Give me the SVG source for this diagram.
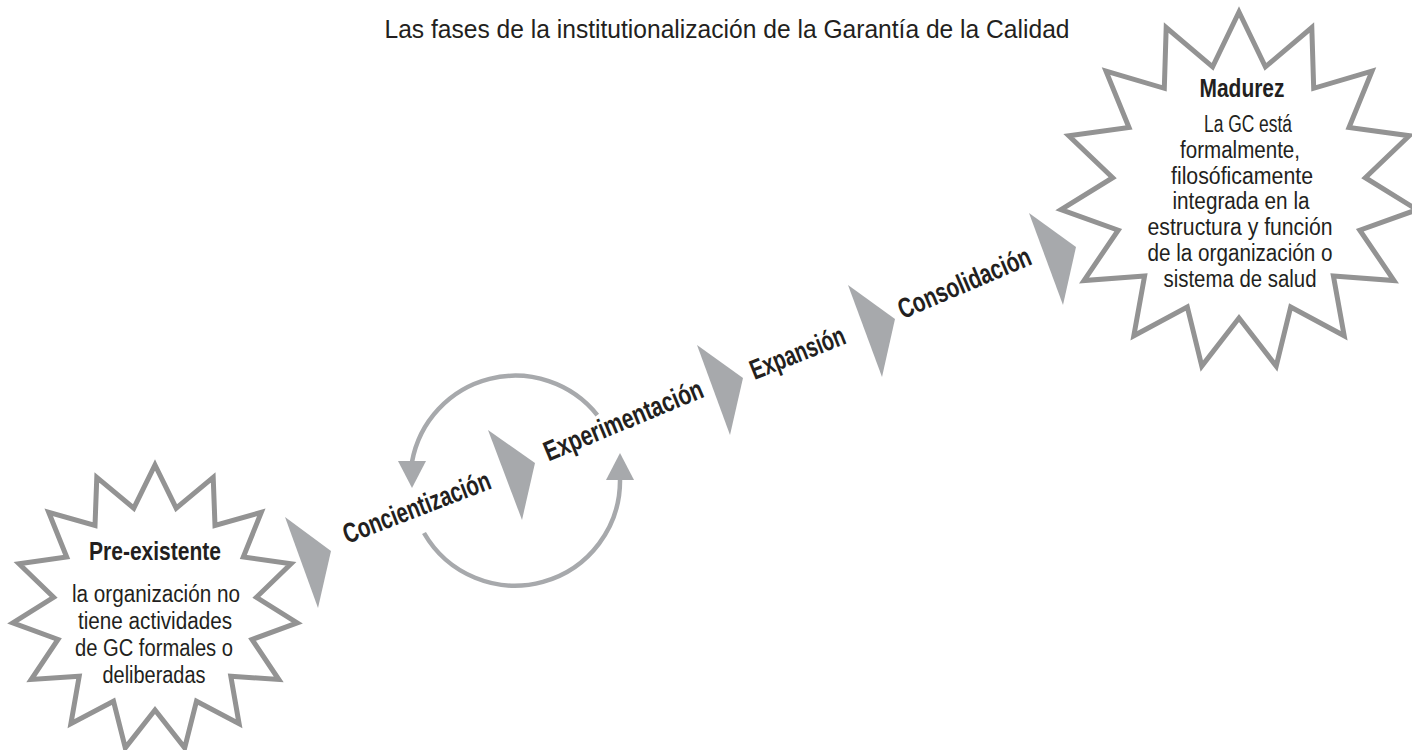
<svg xmlns="http://www.w3.org/2000/svg" width="1412" height="750" viewBox="0 0 1412 750">
  <style>
    .star { fill: #ffffff; stroke: #939393; stroke-width: 5; stroke-linejoin: miter; stroke-miterlimit: 10; }
    .tri { fill: #a7a9ac; stroke: none; }
    .cyc { fill: none; stroke: #a7a9ac; stroke-width: 4.5; }
    .cychead { fill: #a7a9ac; }
    .title { font-family: "Liberation Sans Narrow", "Liberation Sans", Arial, sans-serif; font-size: 25px; fill: #231f20; }
    .head { font-family: "Liberation Sans Narrow", "Liberation Sans", Arial, sans-serif; font-weight: bold; font-size: 25px; fill: #231f20; text-anchor: middle; }
    .body { font-family: "Liberation Sans Narrow", "Liberation Sans", Arial, sans-serif; font-size: 23.5px; fill: #231f20; text-anchor: middle; }
    .phase { font-family: "Liberation Sans Narrow", "Liberation Sans", Arial, sans-serif; font-weight: bold; font-size: 28px; fill: #231f20; text-anchor: middle; }
  </style>

  <text class="title" x="727" y="38" text-anchor="middle" textLength="685" lengthAdjust="spacingAndGlyphs">Las fases de la institutionalización de la Garantía de la Calidad</text>

  <g id="connectors">
    <polygon class="tri" points="285,517 331,551 318,608"/>
    <polygon class="tri" points="488,430 535,463 522,520"/>
    <polygon class="tri" points="697,345 743,378 730,435"/>
    <polygon class="tri" points="848,285 895,319 882,377"/>
    <polygon class="tri" points="1029,213 1076,247 1063,305"/>
    <path class="cyc" d="M597.3,415.1 A105,105 0 0 0 412,462"/>
    <polygon class="cychead" points="398,461 426,461 412,488"/>
    <path class="cyc" d="M424,533 A105,105 0 0 0 620,479"/>
    <polygon class="cychead" points="606,480 634,480 620,453"/>
  </g>

  <g id="node-preexistente">
    <polygon class="star" points="155,465 176.2,508.2 213.2,477.4 215,525.5 261.3,512.3 243.3,557 291,563.8 256.4,597.3 297.2,622.9 252,639.5 278.8,679.5 230.8,676.2 239.1,723.7 196.5,701.2 184.7,747.9 155,710 125.3,747.9 113.5,701.2 70.9,723.7 79.2,676.2 31.2,679.5 58,639.5 12.8,622.9 53.6,597.3 19,563.8 66.7,557 48.7,512.3 95,525.5 96.8,477.4 133.8,508.2"/>
    <text class="head" x="155" y="560" textLength="132" lengthAdjust="spacingAndGlyphs">Pre-existente</text>
    <text class="body" x="156" y="602" textLength="168" lengthAdjust="spacingAndGlyphs">la organización no</text>
    <text class="body" x="155" y="629" textLength="154" lengthAdjust="spacingAndGlyphs">tiene actividades</text>
    <text class="body" x="154" y="656" textLength="158" lengthAdjust="spacingAndGlyphs">de GC formales o</text>
    <text class="body" x="154" y="683" textLength="103" lengthAdjust="spacingAndGlyphs">deliberadas</text>
  </g>

  <g id="node-concientizacion">
    <text class="phase" transform="translate(420,516) rotate(-21)" textLength="156" lengthAdjust="spacingAndGlyphs">Concientización</text>
  </g>
  <g id="node-experimentacion">
    <text class="phase" transform="translate(627,429) rotate(-22.5)" textLength="170" lengthAdjust="spacingAndGlyphs">Experimentación</text>
  </g>
  <g id="node-expansion">
    <text class="phase" transform="translate(801,361.5) rotate(-21.7)" textLength="100" lengthAdjust="spacingAndGlyphs">Expansión</text>
  </g>
  <g id="node-consolidacion">
    <text class="phase" transform="translate(968,291.5) rotate(-23)" textLength="142" lengthAdjust="spacingAndGlyphs">Consolidación</text>
  </g>

  <g id="node-madurez">
    <polygon class="star" points="1239,12 1265.4,66.8 1311.8,27.5 1313.7,88.3 1372,71.2 1349,127.5 1409.2,135.7 1365.3,177.7 1417,209.7 1359.8,230.2 1394,280.5 1333.4,276 1344.2,335.8 1290.7,307 1276.2,366.1 1239,318 1201.8,366.1 1187.3,307 1133.8,335.8 1144.6,276 1084,280.5 1118.2,230.2 1061,209.7 1112.7,177.7 1068.8,135.7 1129,127.5 1106,71.2 1164.3,88.3 1166.2,27.5 1212.6,66.8"/>
    <text class="head" x="1242" y="97" textLength="85" lengthAdjust="spacingAndGlyphs">Madurez</text>
    <text class="body" x="1248" y="132" textLength="88" lengthAdjust="spacingAndGlyphs">La GC está</text>
    <text class="body" x="1240" y="157.8" textLength="120" lengthAdjust="spacingAndGlyphs">formalmente,</text>
    <text class="body" x="1242" y="183.6" textLength="142" lengthAdjust="spacingAndGlyphs">filosóficamente</text>
    <text class="body" x="1241" y="209.4" textLength="137" lengthAdjust="spacingAndGlyphs">integrada en la</text>
    <text class="body" x="1240" y="235.2" textLength="185" lengthAdjust="spacingAndGlyphs">estructura y función</text>
    <text class="body" x="1240" y="261" textLength="185" lengthAdjust="spacingAndGlyphs">de la organización o</text>
    <text class="body" x="1240" y="286.8" textLength="153" lengthAdjust="spacingAndGlyphs">sistema de salud</text>
  </g>
</svg>
